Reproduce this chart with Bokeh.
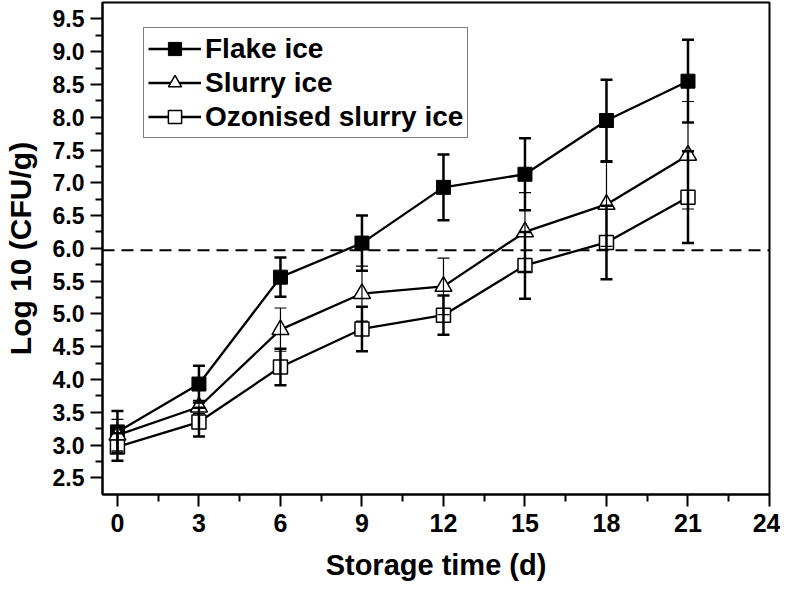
from bokeh.plotting import figure
from bokeh.models import FixedTicker, Span, Legend, LegendItem, PrintfTickFormatter, Range1d
from bokeh.embed import file_html
from bokeh.resources import INLINE

# ---- data ----
days = [0, 3, 6, 9, 12, 15, 18, 21]
flake = [3.20, 3.93, 5.56, 6.08, 6.93, 7.13, 7.95, 8.55]
flake_err = [0.32, 0.28, 0.30, 0.42, 0.50, 0.55, 0.62, 0.63]
slurry = [3.15, 3.58, 4.76, 5.31, 5.42, 6.25, 6.67, 7.42]
slurry_err = [0.24, 0.10, 0.33, 0.42, 0.43, 0.60, 0.64, 0.82]
ozon = [2.97, 3.35, 4.19, 4.77, 4.98, 5.74, 6.09, 6.78]
ozon_err = [0.21, 0.22, 0.28, 0.34, 0.30, 0.51, 0.56, 0.70]
threshold = 5.97
x_ticks = [0, 3, 6, 9, 12, 15, 18, 21, 24]
y_ticks = [2.5, 3.0, 3.5, 4.0, 4.5, 5.0, 5.5, 6.0, 6.5, 7.0, 7.5, 8.0, 8.5, 9.0, 9.5]
labels = ["Flake ice", "Slurry ice", "Ozonised slurry ice"]

x_minor = [(a + b) / 2 for a, b in zip(x_ticks[:-1], x_ticks[1:])]
y_minor = [(a + b) / 2 for a, b in zip(y_ticks[:-1], y_ticks[1:])]

FONT = "Liberation Sans"

p = figure(width=780, height=584,
           x_range=Range1d(-0.55, 24), y_range=Range1d(2.245, 9.75),
           output_backend="svg", toolbar_location=None,
           min_border_left=101, min_border_right=11,
           min_border_top=2, min_border_bottom=90)
p.grid.visible = False
p.outline_line_color = "black"
p.outline_line_width = 2
p.background_fill_color = "white"

for ax in (p.xaxis[0], p.yaxis[0]):
    ax.axis_line_width = 2
    ax.major_tick_line_width = 2
    ax.minor_tick_line_width = 2
    ax.major_tick_in = 0
    ax.major_tick_out = 12
    ax.minor_tick_in = 0
    ax.minor_tick_out = 7
    ax.major_label_text_font = FONT
    ax.major_label_text_font_style = "bold"
    ax.axis_label_text_font_style = "bold"
    ax.axis_label_text_font = FONT
    ax.major_label_text_color = "black"
    ax.axis_label_text_color = "black"

p.xaxis.ticker = FixedTicker(ticks=x_ticks, minor_ticks=x_minor)
p.yaxis.ticker = FixedTicker(ticks=y_ticks, minor_ticks=y_minor)
p.yaxis.formatter = PrintfTickFormatter(format="%.1f")

p.xaxis.major_label_text_font_size = "25px"
p.xaxis.major_label_standoff = 7
p.xaxis.axis_label = "Storage time (d)"
p.xaxis.axis_label_text_font_size = "29px"
p.xaxis.axis_label_standoff = 14

p.yaxis.major_label_text_font_size = "23px"
p.yaxis.major_label_standoff = 6
p.yaxis.axis_label = "Log 10 (CFU/g)"
p.yaxis.axis_label_text_font_size = "30px"
p.yaxis.axis_label_standoff = 13

# threshold dashed line
p.add_layout(Span(location=threshold, dimension="width", line_color="black",
                  line_width=2, line_dash="12 7"))

series = [
    (flake, flake_err, "square", 14, "black", 1.0, 2.5),
    (slurry, slurry_err, "triangle", 17, "white", 1.5, 1.2),
    (ozon, ozon_err, "square", 14, "white", 1.5, 2.5),
]

items = []
for (vals, errs, mk, sz, fill, mlw, elw), lab in zip(series, labels):
    lr = p.line(days, vals, line_color="black", line_width=2.3)
    mr = p.scatter(days, vals, marker=mk, size=sz, fill_color=fill,
                   line_color="black", line_width=mlw)
    items.append(LegendItem(label=lab, renderers=[lr, mr]))

for (vals, errs, mk, sz, fill, mlw, elw) in series:
    lo = [v - e for v, e in zip(vals, errs)]
    hi = [v + e for v, e in zip(vals, errs)]
    p.segment(x0=days, y0=lo, x1=days, y1=hi, line_color="black", line_width=elw)
    p.scatter(days, lo, marker="dash", size=12, line_color="black", line_width=elw)
    p.scatter(days, hi, marker="dash", size=12, line_color="black", line_width=elw)

legend = Legend(items=items, location=(41, 356), margin=0, padding=4, spacing=1,
                glyph_width=53, glyph_height=33, label_height=33, label_standoff=4,
                label_text_font=FONT, label_text_font_style="bold",
                label_text_font_size="28px", label_text_color="black",
                border_line_color="black", border_line_width=1,
                background_fill_color="white", background_fill_alpha=1.0)
p.add_layout(legend)

open("out.html", "w").write(file_html(p, INLINE))
